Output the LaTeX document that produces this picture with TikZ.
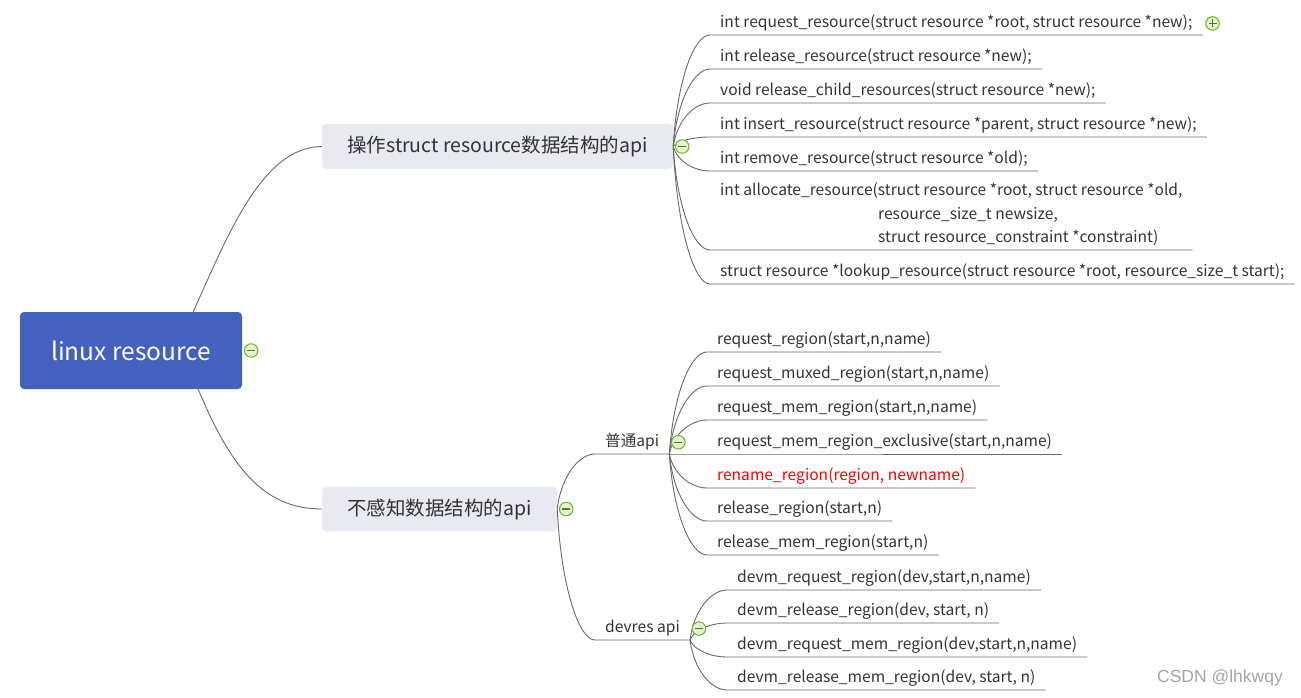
\documentclass[tikz,border=0pt]{standalone}
\usepackage{fontspec}
\setmainfont{Noto Sans CJK SC}
\newfontfamily\markfont{Liberation Sans}
\usepackage{tikz}
\usetikzlibrary{calc}
\definecolor{rootblue}{RGB}{67,97,189}
\definecolor{topicgray}{RGB}{232,233,241}
\definecolor{ink}{RGB}{51,51,51}
\definecolor{wiregray}{RGB}{105,105,105}
\definecolor{foldgreen}{RGB}{108,178,44}
\definecolor{foldfill}{RGB}{226,243,206}
\definecolor{markgray}{RGB}{165,165,165}
\tikzstyle{root}=[rectangle,rounded corners=4pt,fill=rootblue,text=white,minimum width=222pt,minimum height=77pt,font=\fontsize{24.5}{28}\selectfont]
\tikzstyle{topic}=[rectangle,rounded corners=4pt,fill=topicgray,text=ink,minimum height=45pt,font=\fontsize{19.5}{23}\selectfont]
\tikzstyle{leaf}=[anchor=south west,inner xsep=10pt,inner ysep=3pt,text depth=4pt,text=ink,align=left,font=\fontsize{15.6}{23.5}\selectfont]
\tikzstyle{wire}=[draw=wiregray,line width=0.9pt]
\tikzstyle{twig}=[to path={.. controls ($(\tikztostart)!0.6!(\tikztostart|-\tikztotarget)+(4,0)$) and ([xshift=-16pt]\tikztotarget) .. (\tikztotarget) \tikztonodes}]
\tikzstyle{fold}=[circle,draw=foldgreen,fill=foldfill,line width=1pt,minimum size=13.5pt,inner sep=0pt]
\tikzstyle{sign}=[draw=foldgreen!70!black,line width=1.1pt]

\begin{document}
\begin{tikzpicture}[x=1pt,y=-1pt]
  \useasboundingbox (0,0) rectangle (1301,698);

  \node[root] (root) at (131,350.5) {linux resource};
  \node[topic,minimum width=351pt] (b1) at (497.5,146.5) {操作struct resource数据结构的api};
  \node[topic,minimum width=235pt] (b2) at (439.5,509) {不感知数据结构的api};

  \draw[wire] ([xshift=-49pt]root.north east) .. controls (228,235) and (262,147) .. (b1.west);
  \draw[wire] ([xshift=-44pt]root.south east) .. controls (230,465) and (262,509) .. (b2.west);

  % struct resource api
  \node[leaf] (a1) at (710,35) {int request\_resource(struct resource *root, struct resource *new);};
  \node[leaf] (a2) at (710,69) {int release\_resource(struct resource *new);};
  \node[leaf] (a3) at (710,103) {void release\_child\_resources(struct resource *new);};
  \node[leaf] (a4) at (710,137) {int insert\_resource(struct resource *parent, struct resource *new);};
  \node[leaf] (a5) at (710,171) {int remove\_resource(struct resource *old);};
  \node[leaf] (a6) at (710,250) {int allocate\_resource(struct resource *root, struct resource *old,\\
    \hspace*{158pt}resource\_size\_t newsize,\\
    \hspace*{158pt}struct resource\_constraint *constraint)};
  \node[leaf] (a7) at (710,284) {struct resource *lookup\_resource(struct resource *root, resource\_size\_t start);};

  \draw[wire] (b1.east) to[twig] (a1.south west) -- (a1.south east);
  \draw[wire] (b1.east) to[twig] (a2.south west) -- (a2.south east);
  \draw[wire] (b1.east) to[twig] (a3.south west) -- (a3.south east);
  \draw[wire] (b1.east) to[twig] (a4.south west) -- (a4.south east);
  \draw[wire] (b1.east) to[twig] (a5.south west) -- (a5.south east);
  \draw[wire] (b1.east) to[twig] (a6.south west) -- (a6.south east);
  \draw[wire] (b1.east) to[twig] (a7.south west) -- (a7.south east);

  % 普通api and devres api
  \node[leaf] (s1) at (595,454) {普通api};
  \node[leaf] (s2) at (595,640) {devres api};
  \draw[wire] (b2.east) to[twig] (s1.south west) -- (s1.south east);
  \draw[wire] (b2.east) to[twig] (s2.south west) -- (s2.south east);

  \node[leaf] (r1) at (707,352) {request\_region(start,n,name)};
  \node[leaf] (r2) at (707,386) {request\_muxed\_region(start,n,name)};
  \node[leaf] (r3) at (707,420) {request\_mem\_region(start,n,name)};
  \node[leaf] (r4) at (707,454) {request\_mem\_region\_exclusive(start,n,name)};
  \node[leaf,text=red] (r5) at (707,488) {rename\_region(region, newname)};
  \node[leaf] (r6) at (707,521) {release\_region(start,n)};
  \node[leaf] (r7) at (707,555) {release\_mem\_region(start,n)};

  \draw[wire] (s1.south east) to[twig] (r1.south west) -- (r1.south east);
  \draw[wire] (s1.south east) to[twig] (r2.south west) -- (r2.south east);
  \draw[wire] (s1.south east) to[twig] (r3.south west) -- (r3.south east);
  \draw[wire] (s1.south east) to[twig] (r4.south west) -- (r4.south east);
  \draw[wire] (s1.south east) to[twig] (r5.south west) -- (r5.south east);
  \draw[wire] (s1.south east) to[twig] (r6.south west) -- (r6.south east);
  \draw[wire] (s1.south east) to[twig] (r7.south west) -- (r7.south east);

  \node[leaf] (d1) at (727,590) {devm\_request\_region(dev,start,n,name)};
  \node[leaf] (d2) at (727,623) {devm\_release\_region(dev, start, n)};
  \node[leaf] (d3) at (727,657) {devm\_request\_mem\_region(dev,start,n,name)};
  \node[leaf] (d4) at (727,690) {devm\_release\_mem\_region(dev, start, n)};

  \draw[wire] (s2.south east) to[twig] (d1.south west) -- (d1.south east);
  \draw[wire] (s2.south east) to[twig] (d2.south west) -- (d2.south east);
  \draw[wire] (s2.south east) to[twig] (d3.south west) -- (d3.south east);
  \draw[wire] (s2.south east) to[twig] (d4.south west) -- (d4.south east);

  % fold marks
  \node[fold] (f0) at ([xshift=9pt]root.east) {};
  \node[fold] (f1) at ([xshift=9pt]b1.east) {};
  \node[fold] (f2) at ([xshift=9pt]b2.east) {};
  \node[fold] (f3) at ([xshift=9pt]s1.east) {};
  \node[fold] (f4) at ([xshift=9pt]s2.east) {};
  \node[fold] (fp) at ([xshift=10pt]a1.east) {};
  \draw[sign] ([xshift=-4pt]f0.center)--([xshift=4pt]f0.center);
  \draw[sign] ([xshift=-4pt]f1.center)--([xshift=4pt]f1.center);
  \draw[sign] ([xshift=-4pt]f2.center)--([xshift=4pt]f2.center);
  \draw[sign] ([xshift=-4pt]f3.center)--([xshift=4pt]f3.center);
  \draw[sign] ([xshift=-4pt]f4.center)--([xshift=4pt]f4.center);
  \draw[sign] ([xshift=-4pt]fp.center)--([xshift=4pt]fp.center);
  \draw[sign] (fp.center)++(0,-4)--++(0,8);

  \node[text=markgray,font=\markfont\fontsize{17.5}{20}\selectfont] (mark) at (1220,678) {CSDN @lhkwqy};
\end{tikzpicture}
\end{document}
